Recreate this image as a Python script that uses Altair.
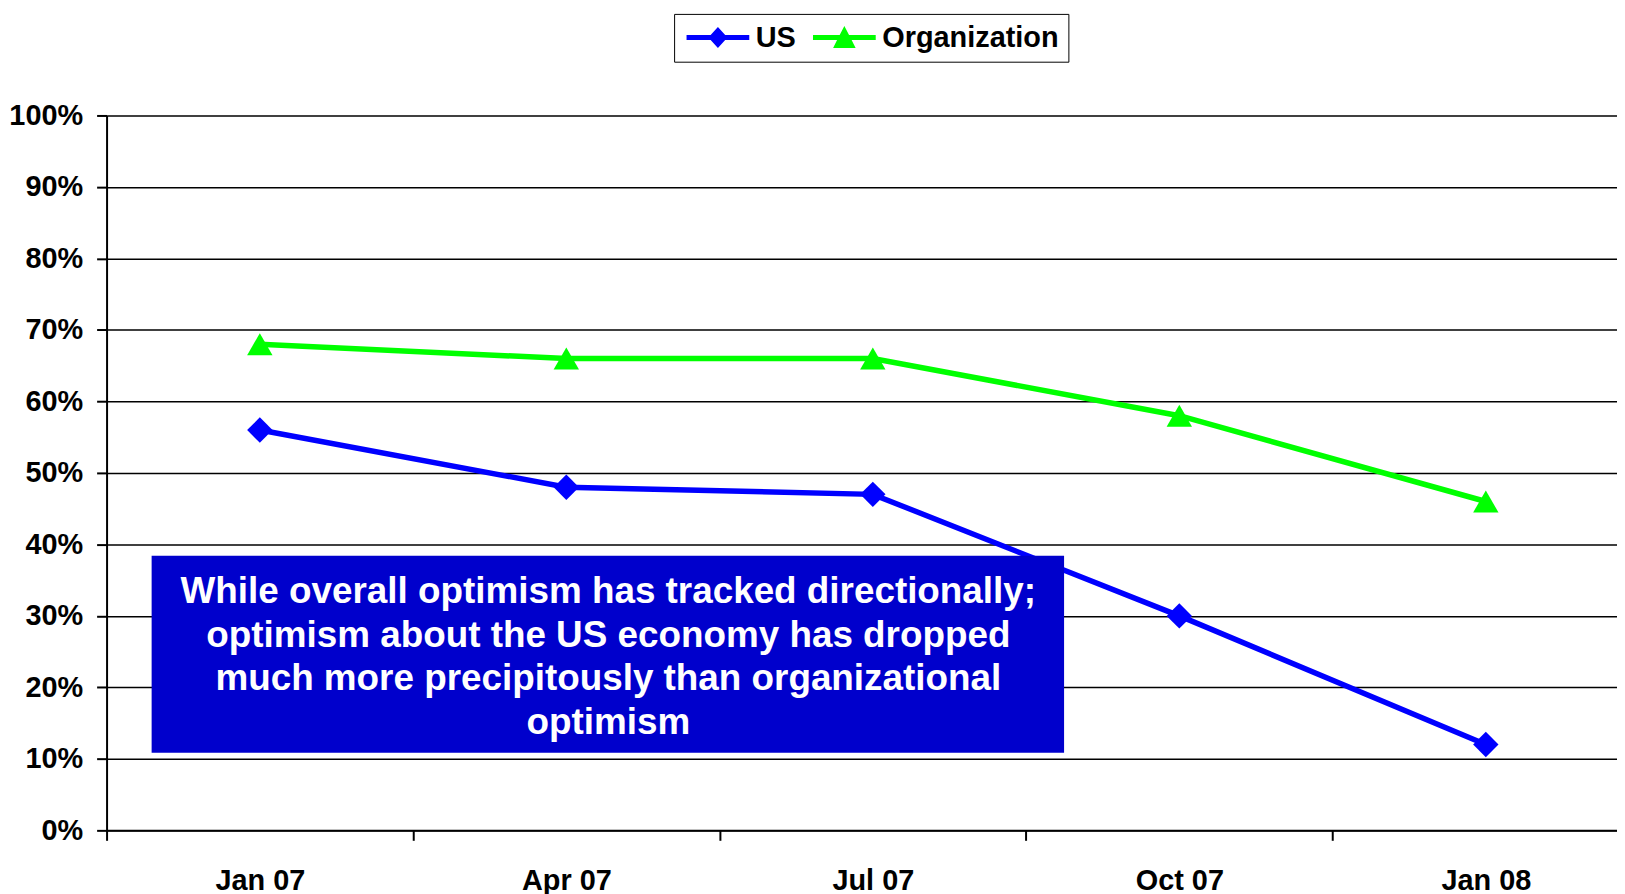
import json
import altair as alt
import pandas as pd

# ---- data ----
categories = ["Jan 07", "Apr 07", "Jul 07", "Oct 07", "Jan 08"]
series = ["US", "Organization"]
us_values = [56, 48, 47, 30, 12]
org_values = [68, 66, 66, 58, 46]
y_ticks = list(range(0, 101, 10))
series_colors = ["#0000FF", "#00FF00"]
series_shapes = ["diamond", "triangle-up"]

note_lines = [
    "While overall optimism has tracked directionally;",
    "optimism about the US economy has dropped",
    "much more precipitously than organizational",
    "optimism",
]
note_x = [-0.353, 2.624]
note_y = [10.85, 38.4]
note_first_line = [1.137, 33.35]

# ---- tables ----
rows = []
for name, vals in zip(series, [us_values, org_values]):
    for i, (c, v) in enumerate(zip(categories, vals)):
        rows.append({"idx": i, "cat": c, "series": name, "value": v})
df = pd.DataFrame(rows)

box_df = pd.DataFrame({"idx": [note_x[0]], "x2": [note_x[1]], "value": [note_y[0]], "y2": [note_y[1]]})
text_df = pd.DataFrame({"idx": [note_first_line[0]], "value": [note_first_line[1]], "t": ["\n".join(note_lines)]})

FONT = "Liberation Sans"

# legend symbols: line + marker as one filled path (pixel geometry / symbol radius)
R = 11.0   # symbol radius used by the legend layout
L, T = 31.5, 2.5
SHIFT = L - R  # move the drawn symbol so it starts at the entry's left edge


def _path(pts):
    return "M" + "L".join("%.3f,%.3f" % ((x + SHIFT) / R, y / R) for x, y in pts) + "Z"


p_us = _path([(-L, -T), (-7.3, -T), (0, -10.5), (7.3, -T), (L, -T), (L, T),
              (7.3, T), (0, 10.5), (-7.3, T), (-L, T)])
p_org = _path([(-L, -T), (-4.7, -T), (0, -11.5), (4.7, -T), (L, -T), (L, T),
               (7.3, T), (11.3, 10.5), (-11.3, 10.5), (-7.3, T), (-L, T)])

legend = alt.Legend(
    title=None,
    orient="none",
    legendX=570,
    legendY=-102,
    direction="horizontal",
    strokeColor="black",
    fillColor="white",
    padding=9,
    labelFont=FONT,
    labelFontSize=29,
    labelFontWeight="bold",
    labelColor="black",
    labelOffset=2 * L + 3 - 2 * R,
    labelLimit=0,
    columnPadding=13,
    symbolSize=(2 * R) ** 2,
    symbolStrokeWidth=0,
    symbolOpacity=1,
)

x_values = [-0.5, 0, 0.5, 1, 1.5, 2, 2.5, 3, 3.5, 4]
x_scale = alt.Scale(domain=[-0.5, 4.428], nice=False, zero=False)
x_axis = alt.Axis(
    values=x_values,
    labelExpr="datum.value %% 1 === 0 ? %s[datum.value] : ''" % json.dumps(categories),
    tickOpacity={"condition": {"test": "datum.value % 1 === 0", "value": 0}, "value": 1},
    grid=False,
    title=None,
    domainColor="black",
    domainWidth=2,
    tickColor="black",
    tickWidth=2,
    tickSize=10,
    labelFont=FONT,
    labelFontSize=29,
    labelFontWeight="bold",
    labelColor="black",
    labelPadding=26,
    labelFlush=False,
    labelOverlap=False,
)

y_scale = alt.Scale(domain=[0, 100], nice=False, zero=True)
y_axis = alt.Axis(
    values=y_ticks,
    labelExpr="datum.value + '%'",
    grid=True,
    gridColor="black",
    gridWidth=1.5,
    gridOpacity=1,
    title=None,
    domainColor="black",
    domainWidth=2,
    tickColor="black",
    tickWidth=2,
    tickSize=10,
    labelFont=FONT,
    labelFontSize=29,
    labelFontWeight="bold",
    labelColor="black",
    labelPadding=14,
    labelFlush=False,
    labelOverlap=False,
)

color_scale = alt.Scale(domain=series, range=series_colors)
X = alt.X("idx:Q", scale=x_scale, axis=x_axis)
Y = alt.Y("value:Q", scale=y_scale, axis=y_axis)
C = alt.Color("series:N", scale=color_scale, legend=legend)

lines = alt.Chart(df).mark_line(strokeWidth=5.5).encode(x=X, y=Y, color=C)

point_layers = []
for name, shp in zip(series, series_shapes):
    point_layers.append(
        alt.Chart(df).transform_filter(alt.datum.series == name)
        .mark_point(filled=True, size=650, opacity=1, shape=shp)
        .encode(x=X, y=Y, color=C)
    )

legend_layer = alt.Chart(df).mark_point(filled=True, size=0, opacity=1).encode(
    x=X, y=Y, color=C,
    shape=alt.Shape("series:N", scale=alt.Scale(domain=series, range=[p_us, p_org]), legend=legend),
)

box = alt.Chart(box_df).mark_rect(color="#0000CC").encode(
    x=X, x2="x2:Q", y=Y, y2="y2:Q",
)

note = alt.Chart(text_df).mark_text(
    font=FONT, fontSize=37, fontWeight="bold", color="white",
    align="center", baseline="middle", lineBreak="\n", lineHeight=44,
).encode(x=X, y=Y, text="t:N")

chart = alt.layer(lines, *point_layers, legend_layer, box, note).properties(
    width=1517,
    height=718,
    autosize=alt.AutoSizeParams(type="none"),
    padding={"left": 99, "top": 106, "right": 0, "bottom": 62},
    background="white",
).configure_view(stroke=None)

chart.save("out.html", embed_options={"renderer": "svg", "actions": False})
